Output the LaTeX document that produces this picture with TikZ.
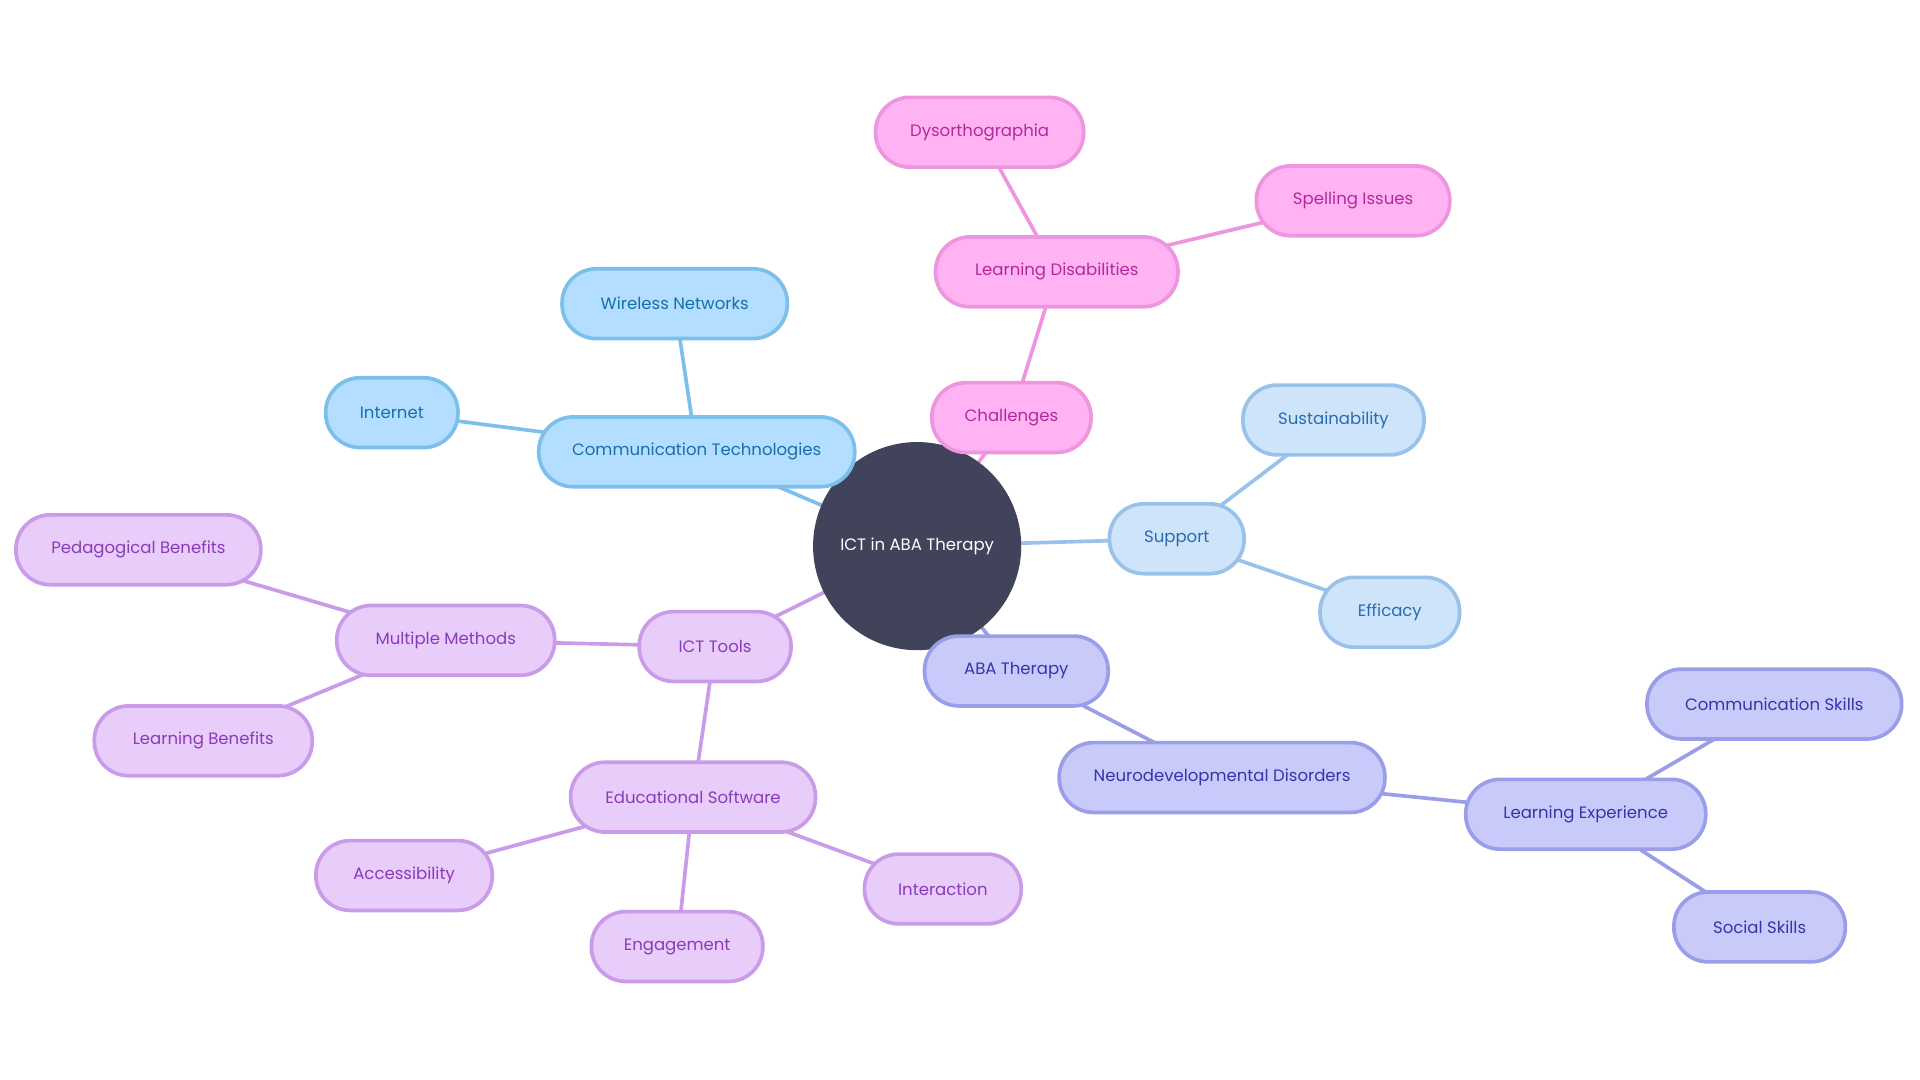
\documentclass[tikz,border=0pt]{standalone}
\usepackage{fontspec}
\setmainfont{Poppins}
\usetikzlibrary{backgrounds}
\definecolor{cbF}{HTML}{B3DEFF}\definecolor{cbD}{HTML}{7DBFEB}\definecolor{cbT}{HTML}{1A6FA8}
\definecolor{pkF}{HTML}{FFB3F2}\definecolor{pkD}{HTML}{EE95DF}\definecolor{pkT}{HTML}{B02A9E}
\definecolor{lbF}{HTML}{CDE4FA}\definecolor{lbD}{HTML}{99C2EB}\definecolor{lbT}{HTML}{2A6BB0}
\definecolor{ppF}{HTML}{E8CCFA}\definecolor{ppD}{HTML}{C99BE8}\definecolor{ppT}{HTML}{8A3BB8}
\definecolor{inF}{HTML}{C8CBFA}\definecolor{inD}{HTML}{9A9EE8}\definecolor{inT}{HTML}{3236A8}
\definecolor{ctr}{HTML}{404359}
\tikzset{
 pill/.style={rounded corners=28pt,minimum height=57pt,line width=3pt,inner sep=0pt,font=\fontsize{13.5}{16}\selectfont},
 cbx/.style={pill,fill=cbF,draw=cbD,text=cbT},
 pkx/.style={pill,fill=pkF,draw=pkD,text=pkT},
 lbx/.style={pill,fill=lbF,draw=lbD,text=lbT},
 ppx/.style={pill,fill=ppF,draw=ppD,text=ppT},
 idg/.style={pill,fill=inF,draw=inD,text=inT},
 ln/.style={line width=3pt},
}
\begin{document}
\begin{tikzpicture}[x=1pt,y=-1pt]
\useasboundingbox (0,0) rectangle (1568,882);
\node[circle,fill=ctr,minimum size=170pt,text=white,font=\fontsize{13.5}{16}\selectfont] (c) at (749,446) {ICT in ABA Therapy};
\node[cbx,minimum width=258pt] (ct) at (569,369) {Communication Technologies};
\node[cbx,minimum width=184pt] (wn) at (551,248) {Wireless Networks};
\node[cbx,minimum width=108pt] (inet) at (320,337) {Internet};
\node[pkx,minimum width=130pt] (ch) at (826,341) {Challenges};
\node[pkx,minimum width=198pt] (ld) at (863,222) {Learning Disabilities};
\node[pkx,minimum width=170pt] (dy) at (800,108) {Dysorthographia};
\node[pkx,minimum width=158pt] (sp) at (1105,164) {Spelling Issues};
\node[lbx,minimum width=110pt] (su) at (961,440) {Support};
\node[lbx,minimum width=148pt] (sb) at (1089,343) {Sustainability};
\node[lbx,minimum width=114pt] (ef) at (1135,500) {Efficacy};
\node[idg,minimum width=150pt] (ab) at (830,548) {ABA Therapy};
\node[idg,minimum width=266pt] (nd) at (998,635) {Neurodevelopmental Disorders};
\node[idg,minimum width=196pt] (le) at (1295,665) {Learning Experience};
\node[idg,minimum width=208pt] (cs) at (1449,575) {Communication Skills};
\node[idg,minimum width=140pt] (ss) at (1437,757) {Social Skills};
\node[ppx,minimum width=124pt] (it) at (584,528) {ICT Tools};
\node[ppx,minimum width=178pt] (mm) at (364,523) {Multiple Methods};
\node[ppx,minimum width=200pt] (pb) at (113,449) {Pedagogical Benefits};
\node[ppx,minimum width=178pt] (lbn) at (166,605) {Learning Benefits};
\node[ppx,minimum width=200pt] (es) at (566,651) {Educational Software};
\node[ppx,minimum width=144pt] (ac) at (330,715) {Accessibility};
\node[ppx,minimum width=140pt] (en) at (553,773) {Engagement};
\node[ppx,minimum width=128pt] (ia) at (770,726) {Interaction};
\begin{scope}[on background layer]
\draw[ln,cbD] (c.center)--(ct.center) (ct.center)--(wn.center) (ct.center)--(inet.center);
\draw[ln,pkD] (c.center)--(ch.center) (ch.center)--(ld.center) (ld.center)--(dy.center) (ld.center)--(sp.center);
\draw[ln,lbD] (c.center)--(su.center) (su.center)--(sb.center) (su.center)--(ef.center);
\draw[ln,inD] (c.center)--(ab.center) (ab.center)--(nd.center) (nd.center)--(le.center) (le.center)--(cs.center) (le.center)--(ss.center);
\draw[ln,ppD] (c.center)--(it.center) (it.center)--(mm.center) (mm.center)--(pb.center) (mm.center)--(lbn.center) (it.center)--(es.center) (es.center)--(ac.center) (es.center)--(en.center) (es.center)--(ia.center);
\end{scope}
\end{tikzpicture}
\end{document}
